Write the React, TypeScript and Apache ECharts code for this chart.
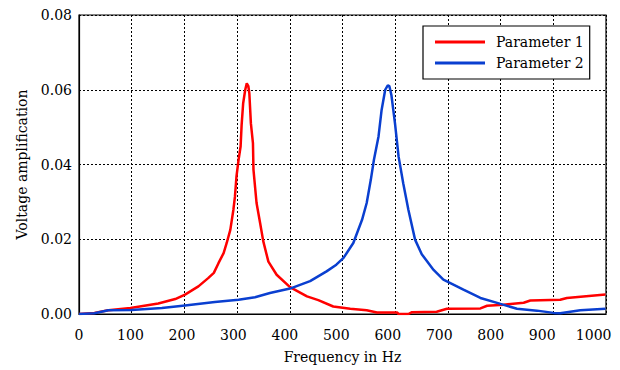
import React, { useEffect, useRef } from "react";
import * as echarts from "echarts";

const xTickLabels = [0, 100, 200, 300, 400, 500, 600, 700, 800, 900, 1000];
const yTickLabels = ["0.00", "0.02", "0.04", "0.06", "0.08"];

const seriesNames = ["Parameter 1", "Parameter 2"];

const redFreq = [0, 30, 57, 100, 154, 187, 206, 232, 251, 262, 271, 281, 287, 294, 300, 303, 306, 310, 314, 316, 319, 323, 326, 329, 331, 334, 338, 339, 345, 352, 358, 368, 384, 410, 443, 465, 494, 527, 559, 579, 618, 621, 640, 647, 695, 715, 780, 793, 825, 864, 877, 935, 948, 980, 1023];
const redValues = [0, 0.0003, 0.001, 0.0016, 0.0028, 0.004, 0.0052, 0.0074, 0.0096, 0.011, 0.0136, 0.0163, 0.019, 0.0225, 0.0279, 0.0314, 0.0368, 0.0412, 0.0448, 0.0506, 0.0564, 0.06, 0.0617, 0.061, 0.059, 0.051, 0.0457, 0.0386, 0.0297, 0.0243, 0.0195, 0.014, 0.0105, 0.0072, 0.0047, 0.0037, 0.002, 0.0014, 0.001, 0.0004, 0.0004, 0, 0, 0.0005, 0.0006, 0.0014, 0.0015, 0.0022, 0.0025, 0.003, 0.0036, 0.0038, 0.0043, 0.0047, 0.0052];

const blueFreq = [0, 30, 57, 102, 161, 206, 264, 310, 342, 371, 410, 449, 481, 500, 514, 533, 550, 559, 567, 573, 582, 588, 595, 600, 603, 607, 614, 621, 630, 640, 653, 666, 689, 708, 747, 780, 819, 851, 890, 922, 935, 974, 1023];
const blueValues = [0, 0.0002, 0.001, 0.0011, 0.0016, 0.0023, 0.0032, 0.0038, 0.0045, 0.0056, 0.0068, 0.0088, 0.0114, 0.0132, 0.015, 0.019, 0.0252, 0.0297, 0.0359, 0.0412, 0.0475, 0.0546, 0.06, 0.0612, 0.061, 0.0586, 0.051, 0.0421, 0.035, 0.0279, 0.0199, 0.016, 0.0118, 0.0092, 0.0065, 0.0043, 0.0027, 0.0014, 0.0009, 0.0003, 0.0002, 0.001, 0.0014];

// frequency range of the plot, and spacing of its vertical grid lines
const freqMax = 1024;
const gridStep = 102.4;

const FONT = "DejaVu Serif";
const FS = 14;

export default function App() {
  const ref = useRef<HTMLDivElement>(null);
  useEffect(() => {
    if (!ref.current) return;
    const chart = echarts.init(ref.current, null, { renderer: "svg" });
    const redData = redFreq.map((f, i) => [f, redValues[i]]);
    const blueData = blueFreq.map((f, i) => [f, blueValues[i]]);
    const dotted = { color: "#000", type: [2, 2] as number[], width: 1 };
    chart.setOption({
      animation: false,
      backgroundColor: "#fff",
      textStyle: { fontFamily: FONT },
      grid: {
        left: 79,
        right: 14,
        top: 15,
        bottom: 56,
        show: true,
        borderColor: "#000",
        borderWidth: 1.2,
        backgroundColor: "transparent",
      },
      legend: {
        data: seriesNames,
        left: 423,
        top: 26,
        orient: "vertical",
        icon: "rect",
        itemWidth: 50,
        itemHeight: 3,
        itemGap: 7,
        padding: [9, 6, 9, 12],
        borderColor: "#000",
        borderWidth: 1.2,
        backgroundColor: "#fff",
        textStyle: { fontFamily: FONT, fontSize: FS, color: "#000", padding: [0, 0, 0, 6] },
      },
      xAxis: [
        {
          type: "value",
          min: 0,
          max: freqMax,
          interval: gridStep,
          axisLine: { show: false },
          axisTick: { show: false },
          axisLabel: { show: false },
          splitLine: { show: true, lineStyle: dotted },
        },
        {
          type: "value",
          min: 0,
          max: freqMax,
          interval: 100,
          position: "bottom",
          name: "Frequency in Hz",
          nameLocation: "middle",
          nameGap: 36,
          nameTextStyle: { fontFamily: FONT, fontSize: FS, color: "#000" },
          axisLine: { show: true, lineStyle: { color: "#000", width: 1.2 } },
          axisTick: { show: false },
          splitLine: { show: false },
          axisLabel: {
            fontFamily: FONT,
            fontSize: FS,
            color: "#000",
            margin: 14,
            formatter: (v: number) => (xTickLabels.includes(v) ? String(v) : ""),
          },
        },
      ],
      yAxis: {
        type: "value",
        min: 0,
        max: 0.08,
        interval: 0.02,
        name: "Voltage amplification",
        nameLocation: "middle",
        nameGap: 50,
        nameTextStyle: { fontFamily: FONT, fontSize: FS, color: "#000" },
        axisLine: { show: true, lineStyle: { color: "#000", width: 1.2 } },
        axisTick: { show: false },
        axisLabel: {
          fontFamily: FONT,
          fontSize: FS,
          color: "#000",
          margin: 7,
          formatter: (v: number) => yTickLabels[Math.round(v / 0.02)] ?? "",
        },
        splitLine: { show: true, lineStyle: dotted },
      },
      series: [
        {
          name: seriesNames[0],
          type: "line",
          xAxisIndex: 1,
          data: redData,
          symbol: "none",
          lineStyle: { color: "#ff0000", width: 2.5 },
          itemStyle: { color: "#ff0000" },
          z: 3,
        },
        {
          name: seriesNames[1],
          type: "line",
          xAxisIndex: 1,
          data: blueData,
          symbol: "none",
          lineStyle: { color: "#0a3fd0", width: 2.5 },
          itemStyle: { color: "#0a3fd0" },
          z: 3,
        },
      ],
    });
    return () => chart.dispose();
  }, []);
  return (
    <div
      ref={ref}
      style={{ position: "absolute", left: 0, top: 0, width: 620, height: 370 }}
    />
  );
}
